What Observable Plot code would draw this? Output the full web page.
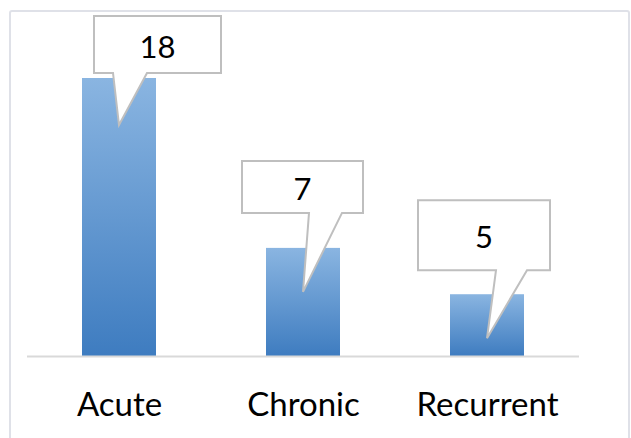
<!DOCTYPE html>
<html><head><meta charset="utf-8">
<script src="https://cdn.jsdelivr.net/npm/d3@7"></script>
<script src="https://cdn.jsdelivr.net/npm/@observablehq/plot@0.6"></script>
<style>
html,body{margin:0;padding:0;background:#fff;}
#wrap{position:relative;width:631px;height:438px;overflow:hidden;}
#frame{position:absolute;left:9px;top:10px;width:621px;height:470px;box-sizing:border-box;border:2px solid #dfe1e8;border-radius:3px;}
#chart{position:absolute;left:0;top:0;}
</style></head><body>
<div id="wrap"><div id="frame"></div><div id="chart"></div></div>
<script>
const categories = ["Acute", "Chronic", "Recurrent"];
const barValues = [18, 7, 4];          // bar heights as drawn
const labelValues = ["18", "7", "5"];  // numbers printed in the callouts

// callout geometry (pixels, relative to bar centre / bar top)
const calloutLayout = [
  {left: -25, right: 102, top: -62, bottom: -5, baseL: -6, baseR: 28, tip: 47},
  {left: -61, right: 60, top: -87, bottom: -35, baseL: 6, baseR: 39, tip: 44},
  {left: -69, right: 63, top: -94, bottom: -24, baseL: 9, baseR: 40, tip: 44}
];

const data = categories.map((c, i) => ({category: c, value: barValues[i], label: labelValues[i], i}));

function callouts(index, scales) {
  const sx = scales.x, sy = scales.y;
  const bw = typeof sx.bandwidth === "function" ? sx.bandwidth() : (sx.bandwidth || 0);
  const g = d3.create("svg:g");
  data.forEach((d) => {
    const L = calloutLayout[d.i];
    const cx = sx(d.category) + bw / 2, ty = sy(d.value);
    const x0 = cx + L.left, x1 = cx + L.right, y0 = ty + L.top, y1 = ty + L.bottom;
    const p = `M${x0},${y0}H${x1}V${y1}H${cx + L.baseR}L${cx},${ty + L.tip}L${cx + L.baseL},${y1}H${x0}Z`;
    g.append("path").attr("d", p).attr("fill", "white")
      .attr("stroke", "#bfbfbf").attr("stroke-width", 2);
    g.append("text").attr("x", (x0 + x1) / 2).attr("y", (y0 + y1) / 2 + 1)
      .attr("text-anchor", "middle").attr("dominant-baseline", "central")
      .attr("font-family", "Lato, 'Open Sans', sans-serif").attr("font-size", 31)
      .attr("fill", "#000").text(d.label);
  });
  return g.node();
}

const chart = Plot.plot({
  width: 631,
  height: 438,
  marginLeft: 27,
  marginRight: 52,
  marginTop: 78,
  marginBottom: 82,
  style: {background: "transparent", overflow: "visible"},
  x: {domain: categories, paddingInner: 0.6, paddingOuter: 0.3, label: null},
  y: {domain: [0, 18], axis: null},
  marks: [
    Plot.barY(data, {x: "category", y: "value", fill: "url(#barGrad)"}),
    Plot.ruleY([0], {stroke: "#d9d9d9", strokeWidth: 2}),
    Plot.axisX({tickSize: 0, tickPadding: 36, fontSize: 33, fontFamily: "Lato, 'Open Sans', sans-serif", color: "#000", label: null}),
    callouts
  ]
});

const svg = d3.select(chart);
const defs = svg.insert("defs", ":first-child");
const grad = defs.append("linearGradient").attr("id", "barGrad")
  .attr("x1", 0).attr("y1", 0).attr("x2", 0).attr("y2", 1);
grad.append("stop").attr("offset", "0%").attr("stop-color", "#8ab5e1");
grad.append("stop").attr("offset", "100%").attr("stop-color", "#3e7cc0");

document.getElementById("chart").appendChild(chart);
</script>
</body></html>
